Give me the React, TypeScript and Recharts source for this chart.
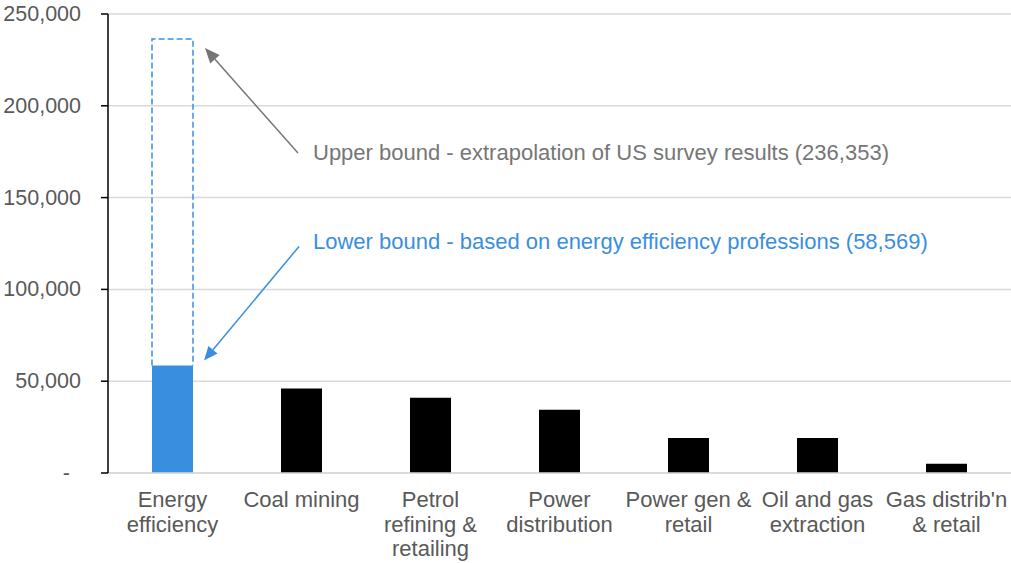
import React from "react";
import { BarChart, Bar, XAxis, YAxis, CartesianGrid, Cell } from "recharts";

// Jobs by sector; energy efficiency carries a lower and an upper estimate.
const categories = [
  "Energy\nefficiency",
  "Coal mining",
  "Petrol\nrefining &\nretailing",
  "Power\ndistribution",
  "Power gen &\nretail",
  "Oil and gas\nextraction",
  "Gas distrib'n\n& retail",
];
const jobs = [58569, 46000, 41000, 34400, 19100, 19100, 5100];
const upperBound: (number | null)[] = [236353, null, null, null, null, null, null];
const yTicks = [0, 50000, 100000, 150000, 200000, 250000];

const upperNote = "Upper bound - extrapolation of US survey results (236,353)";
const lowerNote = "Lower bound - based on energy efficiency professions (58,569)";

const FONT = "'Liberation Sans', Arial, Helvetica, sans-serif";
const BLUE = "#3a8ee0";
const GREY_NOTE = "#767676";
const LABEL = "#595959";

const data = categories.map((category, i) => ({
  category,
  jobs: jobs[i],
  bounds: upperBound[i] != null ? [jobs[i], upperBound[i]] : null,
}));

const fmt = (v: number) => (v === 0 ? "-" : v.toLocaleString("en-US"));

function YTick(props: any) {
  const { x, y, payload } = props;
  const v = payload.value as number;
  return (
    <text
      x={v === 0 ? x - 11 : x}
      y={y}
      textAnchor="end"
      dominantBaseline="central"
      fill={LABEL}
      fontSize={21.5}
      fontFamily={FONT}
    >
      {fmt(v)}
    </text>
  );
}

function XTick(props: any) {
  const { x, y, payload } = props;
  const lines = String(payload.value).split("\n");
  return (
    <text textAnchor="middle" fill={LABEL} fontSize={22} fontFamily={FONT}>
      {lines.map((ln, i) => (
        <tspan key={i} x={x} y={y + 34 + i * 24.7}>
          {ln}
        </tspan>
      ))}
    </text>
  );
}

function Arrow({ x1, y1, x2, y2, color, head }: any) {
  // line from tail (x1,y1) to tip (x2,y2) with a filled triangular head
  const dx = x2 - x1;
  const dy = y2 - y1;
  const len = Math.hypot(dx, dy);
  const ux = dx / len;
  const uy = dy / len;
  const bx = x2 - ux * head;
  const by = y2 - uy * head;
  const hw = head * 0.42;
  const pts = `${x2},${y2} ${bx - uy * hw},${by + ux * hw} ${bx + uy * hw},${by - ux * hw}`;
  return (
    <g>
      <line x1={x1} y1={y1} x2={bx} y2={by} stroke={color} strokeWidth={1.5} />
      <polygon points={pts} fill={color} />
    </g>
  );
}

// Dashed outline for the estimate range, plus the two call-outs.
function BoundShape(props: any) {
  const { x, y, width, height, payload } = props;
  if (!payload || !payload.bounds || !(height > 0)) return <g />;
  const right = x + width;
  const bottom = y + height;
  return (
    <g>
      <path
        d={`M${x},${bottom} L${x},${y} L${right},${y} L${right},${bottom}`}
        fill="none"
        stroke={BLUE}
        strokeWidth={1.5}
        strokeDasharray="6 3"
      />
      <Arrow x1={right + 105} y1={y + 114} x2={right + 12} y2={y + 9} color={GREY_NOTE} head={15} />
      <Arrow x1={right + 106} y1={bottom - 119} x2={right + 11} y2={bottom - 5} color={BLUE} head={14} />
      <text x={right + 120} y={y + 121} fill={GREY_NOTE} fontSize={22} fontFamily={FONT}>
        {upperNote}
      </text>
      <text x={right + 120} y={bottom - 116} fill={BLUE} fontSize={22} fontFamily={FONT}>
        {lowerNote}
      </text>
    </g>
  );
}

export default function App() {
  return (
    <div style={{ position: "absolute", left: 0, top: 0, width: 1011, height: 563, background: "#fff" }}>
      <BarChart
        width={1011}
        height={563}
        data={data}
        margin={{ top: 14, right: 0, bottom: 0, left: 0 }}
      >
        <CartesianGrid horizontal vertical={false} stroke="#d9d9d9" strokeWidth={1.5} />
        <XAxis
          dataKey="category"
          interval={0}
          height={90}
          tick={<XTick />}
          tickLine={false}
          tickSize={0}
          tickMargin={0}
          axisLine={{ stroke: "#d9d9d9", strokeWidth: 1.5 }}
        />
        <XAxis dataKey="category" xAxisId="bound" hide />
        <YAxis
          domain={[0, 250000]}
          ticks={yTicks}
          width={108}
          tick={<YTick />}
          tickSize={7}
          tickMargin={20}
          tickLine={{ stroke: "#000", strokeWidth: 1.5 }}
          axisLine={{ stroke: "#000", strokeWidth: 1.5 }}
          interval={0}
        />
        <Bar
          dataKey="bounds"
          xAxisId="bound"
          barSize={41}
          isAnimationActive={false}
          shape={<BoundShape />}
        />
        <Bar dataKey="jobs" barSize={41} isAnimationActive={false}>
          {data.map((d, i) => (
            <Cell key={d.category} fill={i === 0 ? BLUE : "#000"} />
          ))}
        </Bar>
      </BarChart>
    </div>
  );
}
